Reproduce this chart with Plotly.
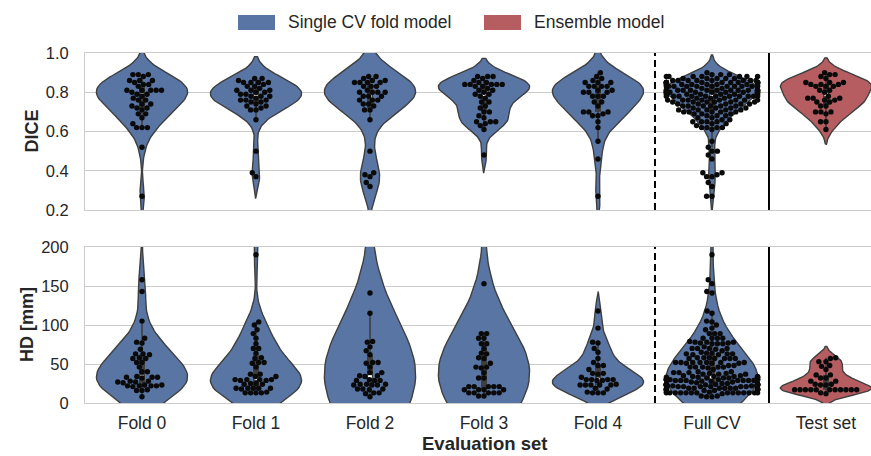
import numpy as np
import plotly.graph_objects as go

# ---------------- data ----------------
categories = ["Fold 0", "Fold 1", "Fold 2", "Fold 3", "Fold 4", "Full CV", "Test set"]
legend_labels = ["Single CV fold model", "Ensemble model"]
dice_ticks = [0.2, 0.4, 0.6, 0.8, 1.0]
hd_ticks = [0, 50, 100, 150, 200]

dice_fold0 = [0.89, 0.89, 0.89, 0.88, 0.86, 0.86, 0.86, 0.85, 0.84, 0.84, 0.83,
              0.81, 0.81, 0.81, 0.80, 0.81, 0.81, 0.79, 0.78, 0.79, 0.77, 0.76,
              0.76, 0.74, 0.74, 0.73, 0.72, 0.71, 0.72, 0.69, 0.69, 0.67, 0.64,
              0.62, 0.62, 0.62, 0.52, 0.27]
dice_fold1 = [0.87, 0.87, 0.86, 0.85, 0.85, 0.85, 0.85, 0.84, 0.83, 0.83, 0.82,
              0.81, 0.81, 0.81, 0.80, 0.80, 0.79, 0.79, 0.78, 0.78, 0.78, 0.77,
              0.76, 0.76, 0.76, 0.75, 0.75, 0.74, 0.73, 0.73, 0.72, 0.71, 0.71,
              0.66, 0.50, 0.39, 0.37]
dice_fold2 = [0.88, 0.88, 0.87, 0.86, 0.86, 0.85, 0.85, 0.85, 0.85, 0.83, 0.83,
              0.83, 0.81, 0.80, 0.80, 0.80, 0.80, 0.78, 0.78, 0.78, 0.76, 0.76,
              0.76, 0.74, 0.74, 0.73, 0.71, 0.71, 0.66, 0.50, 0.39, 0.38, 0.37,
              0.34, 0.32]
dice_fold3 = [0.88, 0.88, 0.87, 0.88, 0.86, 0.85, 0.85, 0.84, 0.84, 0.84, 0.83,
              0.83, 0.84, 0.84, 0.82, 0.81, 0.81, 0.80, 0.79, 0.79, 0.78, 0.77,
              0.75, 0.75, 0.73, 0.72, 0.70, 0.70, 0.68, 0.67, 0.65, 0.65, 0.65,
              0.64, 0.63, 0.61, 0.48]
dice_fold4 = [0.90, 0.88, 0.87, 0.86, 0.85, 0.85, 0.85, 0.83, 0.83, 0.83, 0.83,
              0.81, 0.80, 0.80, 0.80, 0.81, 0.78, 0.78, 0.78, 0.75, 0.75, 0.73,
              0.70, 0.70, 0.70, 0.69, 0.68, 0.68, 0.65, 0.62, 0.55, 0.46, 0.27]
dice_test = [0.90, 0.89, 0.89, 0.88, 0.87, 0.85, 0.85, 0.85, 0.84, 0.84, 0.84,
             0.83, 0.83, 0.83, 0.81, 0.81, 0.80, 0.77, 0.77, 0.78, 0.77, 0.76,
             0.75, 0.75, 0.76, 0.73, 0.73, 0.70, 0.70, 0.69, 0.70, 0.65, 0.65,
             0.61]

# HD values (values above 200 mm lie outside the shown axis range)
hd_fold0 = [158, 143, 105, 83, 78, 77, 69, 63, 63, 62, 58, 57, 57, 52, 52, 46,
            40, 40, 33, 33, 32, 34, 33, 28, 27, 28, 26, 27, 23, 22, 22, 21, 23,
            22, 22, 16, 17, 16, 8, 265]
hd_fold1 = [190, 104, 100, 94, 89, 83, 76, 70, 70, 64, 58, 57, 52, 52, 51, 46,
            37, 37, 34, 34, 30, 30, 29, 30, 29, 30, 25, 24, 25, 24, 19, 19, 19,
            18, 19, 19, 13, 13, 13, 14, 13, 235]
hd_fold2 = [141, 115, 79, 78, 72, 67, 62, 52, 52, 51, 46, 39, 39, 35, 34, 35,
            29, 29, 30, 29, 24, 23, 24, 23, 24, 23, 18, 18, 18, 17, 13, 13, 12, 8,
            480, 520, 560]
hd_fold3 = [153, 89, 89, 83, 83, 76, 76, 70, 64, 63, 58, 57, 51, 46, 46, 45,
            39, 32, 32, 21, 21, 21, 21, 21, 17, 17, 17, 17, 13, 13, 13, 13, 13,
            9, 9, 470, 520]
hd_fold4 = [118, 96, 78, 77, 70, 65, 57, 52, 48, 48, 43, 38, 37, 38, 33, 30, 30,
            29, 30, 29, 30, 23, 23, 24, 23, 23, 23, 18, 19, 13, 14, 13, 13]
hd_test = [58, 57, 53, 53, 48, 47, 43, 36, 36, 32, 32, 28, 28, 24, 23, 24, 23,
           17, 17, 17, 17, 17, 17, 17, 17, 17, 17, 17, 12, 13]

dice_full = dice_fold0 + dice_fold1 + dice_fold2 + dice_fold3 + dice_fold4
hd_full = hd_fold0 + hd_fold1 + hd_fold2 + hd_fold3 + hd_fold4

dice_groups = [dice_fold0, dice_fold1, dice_fold2, dice_fold3, dice_fold4, dice_full, dice_test]
hd_groups = [hd_fold0, hd_fold1, hd_fold2, hd_fold3, hd_fold4, hd_full, hd_test]

# ---------------- layout constants ----------------
W, H = 871, 456
ML, MR, MT, MB = 85, 0, 53, 53
PW, PH = W - ML - MR, H - MT - MB
X_RANGE = [-0.5, 6.395]
TOP_DOM = [1 - (210 - MT) / PH, 1.0]
BOT_DOM = [0.0, 1 - (247 - MT) / PH]
DICE_RANGE = [0.2, 1.0]
HD_RANGE = [0, 200]

BLUE = "#5975a4"
RED = "#b55d60"
EDGE = "#3f3f3f"
TXT = "#262626"
FONT = "Liberation Sans, Arial, sans-serif"

px_per_x = PW / (X_RANGE[1] - X_RANGE[0])
dice_scale = (TOP_DOM[1] - TOP_DOM[0]) * PH / (DICE_RANGE[1] - DICE_RANGE[0])
hd_scale = (BOT_DOM[1] - BOT_DOM[0]) * PH / (HD_RANGE[1] - HD_RANGE[0])
VIOLIN_W = 0.8


def kde_outline(vals, cut=2.0, gridsize=100):
    """Gaussian KDE with Scott's bandwidth, support extended by cut*bw (seaborn style)."""
    v = np.asarray(vals, dtype=float)
    bw = v.std(ddof=1) * len(v) ** (-0.2)
    grid = np.linspace(v.min() - cut * bw, v.max() + cut * bw, gridsize)
    dens = np.exp(-0.5 * ((grid[:, None] - v[None, :]) / bw) ** 2).sum(axis=1)
    return grid, dens / dens.max()


def swarm_offsets(vals, scale, d=5.4):
    ys = np.asarray(vals, dtype=float) * scale
    order = np.argsort(ys, kind="stable")
    xs = np.zeros(len(ys))
    placed = []
    for i in order:
        y = ys[i]
        near = [(px, py) for px, py in placed if abs(py - y) < d]
        cands = [0.0]
        for px, py in near:
            dx = np.sqrt(d * d - (py - y) ** 2)
            cands += [px + dx, px - dx]
        cands.sort(key=lambda c: (abs(c), c))
        chosen = cands[-1]
        for c in cands:
            if all((c - px) ** 2 + (y - py) ** 2 >= d * d - 1e-6 for px, py in near):
                chosen = c
                break
        xs[i] = chosen
        placed.append((chosen, y))
    lim = VIOLIN_W / 2 * px_per_x
    xs = np.clip(xs, -lim, lim)
    return xs / px_per_x


fig = go.Figure()


def add_panel(groups, xa, ya, scale):
    for i, vals in enumerate(groups):
        grid, dens = kde_outline(vals)
        half = dens * VIOLIN_W / 2
        xs = np.concatenate([i - half, (i + half)[::-1], [i - half[0]]])
        ys = np.concatenate([grid, grid[::-1], [grid[0]]])
        fig.add_trace(go.Scatter(
            x=xs, y=ys, xaxis=xa, yaxis=ya, mode="lines", fill="toself",
            fillcolor=BLUE if i < 6 else RED, line=dict(color=EDGE, width=1.4),
            showlegend=False, hoverinfo="skip"))
    for i, vals in enumerate(groups):
        v = np.asarray(vals, dtype=float)
        q1, med, q3 = np.percentile(v, [25, 50, 75])
        iqr = q3 - q1
        lo = v[v >= q1 - 1.5 * iqr].min()
        hi = v[v <= q3 + 1.5 * iqr].max()
        fig.add_trace(go.Scatter(x=[i, i], y=[lo, hi], mode="lines", xaxis=xa, yaxis=ya,
                                 line=dict(color=EDGE, width=1.6), showlegend=False,
                                 hoverinfo="skip"))
        fig.add_trace(go.Scatter(x=[i, i], y=[q1, q3], mode="lines", xaxis=xa, yaxis=ya,
                                 line=dict(color=EDGE, width=6), showlegend=False,
                                 hoverinfo="skip"))
        fig.add_trace(go.Scatter(x=[i], y=[med], mode="markers", xaxis=xa, yaxis=ya,
                                 marker=dict(color="white", size=4), showlegend=False,
                                 hoverinfo="skip"))
    for i, vals in enumerate(groups):
        off = swarm_offsets(vals, scale)
        fig.add_trace(go.Scatter(x=i + off, y=vals, mode="markers", xaxis=xa, yaxis=ya,
                                 marker=dict(color="#0a0a0a", size=5.4, line=dict(width=0)),
                                 showlegend=False, hoverinfo="skip"))


add_panel(dice_groups, "x", "y", dice_scale)
add_panel(hd_groups, "x2", "y2", hd_scale)

shapes = []
for yref in ["y domain", "y2 domain"]:
    shapes.append(dict(type="line", xref="x", yref=yref, x0=4.5, x1=4.5, y0=0, y1=1,
                       line=dict(color="black", width=2, dash="7px,4px")))
    shapes.append(dict(type="line", xref="x", yref=yref, x0=5.5, x1=5.5, y0=0, y1=1,
                       line=dict(color="black", width=2)))


def px_x(p):
    return (p - ML) / PW


def px_y(p):
    return 1 + (MT - p) / PH


shapes.append(dict(type="rect", xref="paper", yref="paper", x0=px_x(238), x1=px_x(275),
                   y0=px_y(30), y1=px_y(15), fillcolor=BLUE, line=dict(width=0)))
shapes.append(dict(type="rect", xref="paper", yref="paper", x0=px_x(484), x1=px_x(521),
                   y0=px_y(30), y1=px_y(15), fillcolor=RED, line=dict(width=0)))

annotations = [
    dict(text=legend_labels[0], x=px_x(286), y=px_y(22.5), xref="paper", yref="paper",
         xanchor="left", yanchor="middle", showarrow=False, font=dict(size=17.5, color=TXT)),
    dict(text=legend_labels[1], x=px_x(532), y=px_y(22.5), xref="paper", yref="paper",
         xanchor="left", yanchor="middle", showarrow=False, font=dict(size=17.5, color=TXT)),
    dict(text="<b>DICE</b>", x=px_x(31), y=px_y(131.5), xref="paper", yref="paper",
         textangle=-90, showarrow=False, xanchor="center", yanchor="middle",
         font=dict(size=18, color=TXT)),
    dict(text="<b>HD [mm]</b>", x=px_x(27), y=px_y(325), xref="paper", yref="paper",
         textangle=-90, showarrow=False, xanchor="center", yanchor="middle",
         font=dict(size=18, color=TXT)),
    dict(text="<b>Evaluation set</b>", x=px_x(484), y=px_y(443), xref="paper", yref="paper",
         showarrow=False, xanchor="center", yanchor="middle",
         font=dict(size=18.5, color=TXT)),
]

grid_common = dict(zeroline=False, showline=True, linecolor="#cccccc", linewidth=1,
                   mirror=True, ticks="")

fig.update_layout(
    width=W, height=H, autosize=False,
    margin=dict(l=ML, r=MR, t=MT, b=MB),
    paper_bgcolor="white", plot_bgcolor="white",
    font=dict(family=FONT, color=TXT),
    showlegend=False,
    xaxis=dict(domain=[0, 1], anchor="y", range=X_RANGE, tickvals=list(range(7)),
               ticktext=categories, showticklabels=False, showgrid=False, **grid_common),
    yaxis=dict(domain=TOP_DOM, anchor="x", range=DICE_RANGE, tickvals=dice_ticks,
               tickformat=".1f", ticklabelstandoff=12, showgrid=True, gridcolor="#cccccc",
               tickfont=dict(size=16.5, color=TXT, family=FONT), **grid_common),
    xaxis2=dict(domain=[0, 1], anchor="y2", range=X_RANGE, tickvals=list(range(7)),
                ticktext=categories, ticklabelstandoff=4, showgrid=False,
                tickfont=dict(size=17.5, color=TXT, family=FONT), **grid_common),
    yaxis2=dict(domain=BOT_DOM, anchor="x2", range=HD_RANGE, tickvals=hd_ticks,
                ticklabelstandoff=12, showgrid=True, gridcolor="#cccccc",
                tickfont=dict(size=16.5, color=TXT, family=FONT), **grid_common),
    shapes=shapes, annotations=annotations,
)

fig.write_html("out.html", config={"displayModeBar": False, "staticPlot": True},
               post_script="document.body.style.margin='0px';")
